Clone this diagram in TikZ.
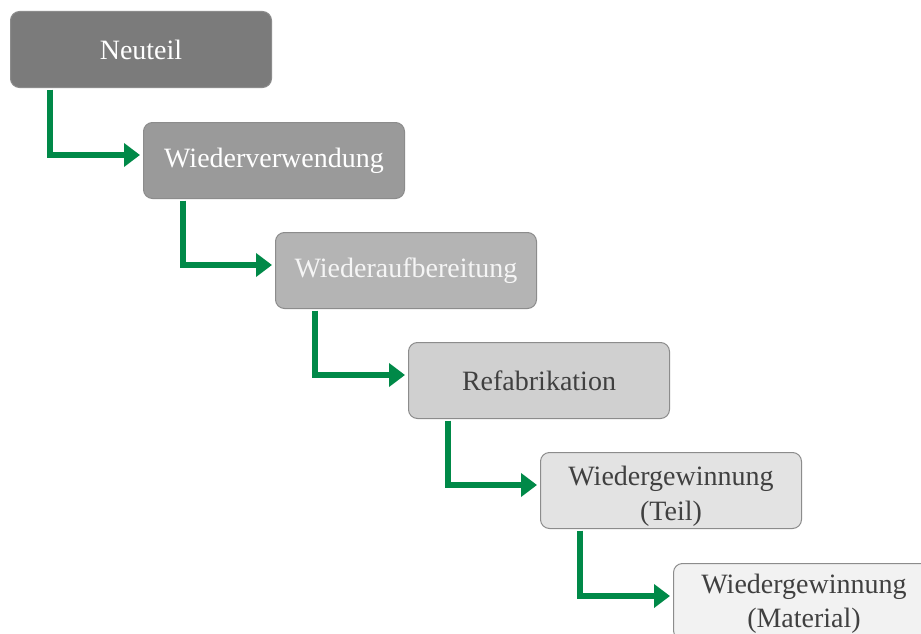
\documentclass[tikz,border=0pt]{standalone}
\usepackage{fontspec}
\setmainfont{Liberation Serif}
\usetikzlibrary{arrows.meta,calc}

\definecolor{flowgreen}{RGB}{0,137,72}
\definecolor{edgegray}{RGB}{140,140,140}
\definecolor{darktext}{RGB}{64,64,64}
\definecolor{shadeA}{RGB}{123,123,123}
\definecolor{shadeB}{RGB}{154,154,154}
\definecolor{shadeC}{RGB}{180,180,180}
\definecolor{shadeD}{RGB}{208,208,208}
\definecolor{shadeE}{RGB}{227,227,227}
\definecolor{shadeF}{RGB}{242,242,242}

% tall strut that lowers a two-line label a little inside its box
\newcommand{\lowerstrut}[1]{\rule{0pt}{#1}}

\tikzset{
  stage/.style={draw=edgegray, line width=1pt, fill=#1, rounded corners=9pt,
    rectangle, anchor=north west, minimum width=261pt, minimum height=76pt,
    inner sep=0pt, align=center, font=\fontsize{28}{35}\selectfont},
  flow/.style={draw=flowgreen, line width=6.5pt, line join=miter,
    -{Triangle[length=16pt, width=23pt]}}
}

\begin{document}
\begin{tikzpicture}[x=1pt, y=-1pt]
  \useasboundingbox (0,0) rectangle (921,634);
  \clip (0,0) rectangle (921,634);
  \fill[white] (0,0) rectangle (921,634);

  % stages, each one step down and to the right
  \node[stage=shadeA, text=white]    (s1) at (10,11)    {Neuteil};
  \node[stage=shadeB, text=white]    (s2) at (143,122)  {Wiederverwendung};
  \node[stage=shadeC, text=white!96!black] (s3) at (275,232) {Wiederaufbereitung};
  \node[stage=shadeD, text=darktext] (s4) at (408,342)  {Refabrikation};
  \node[stage=shadeE, text=darktext] (s5) at (540,452)  {\lowerstrut{30pt}Wiedergewinnung\\(Teil)};
  \node[stage=shadeF, text=darktext, font=\fontsize{28}{34}\selectfont]
       (s6) at (673,563) {\lowerstrut{24pt}Wiedergewinnung\\(Material)};

  % elbow connectors between consecutive stages
  \foreach \a/\b in {s1/s2, s2/s3, s3/s4, s4/s5, s5/s6}{
    \draw[flow] ($(\a.south west)+(40,1.5)$) |- ($(\b.north west)+(-3,33)$);
  }
\end{tikzpicture}
\end{document}
